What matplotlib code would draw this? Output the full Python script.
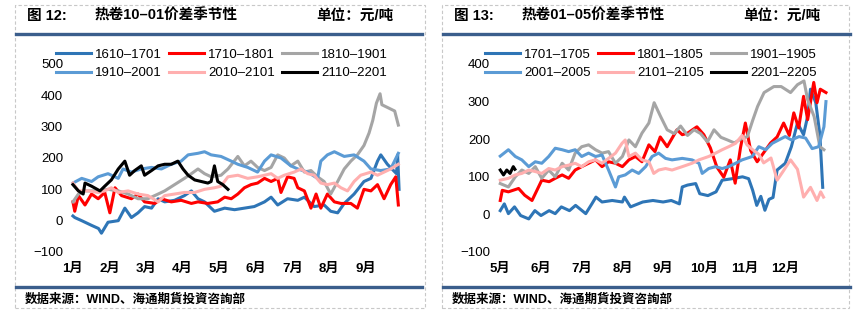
import matplotlib
matplotlib.use("Agg")
import matplotlib.pyplot as plt
from matplotlib.lines import Line2D
from matplotlib.patches import Rectangle

plt.rcParams['font.family'] = ['Liberation Sans', 'Noto Sans CJK SC']
plt.rcParams['axes.unicode_minus'] = True

# ---- left chart: 10-01 spread, x = months since 1 Jan ----
left_ticks = ['1月', '2月', '3月', '4月', '5月', '6月', '7月', '8月', '9月']
left_labels = ['1610–1701', '1710–1801', '1810–1901', '1910–2001', '2010–2101', '2110–2201']

s1610 = [(0.0, 15), (0.05, 10), (0.24, 0), (0.51, -15), (0.7, -25), (0.78, -40), (0.96, -5),
         (1.24, 0), (1.42, 40), (1.6, 10), (1.78, 25), (1.96, 45), (2.15, 40), (2.33, 70),
         (2.51, 60), (2.78, 65), (3.05, 80), (3.24, 95), (3.42, 70), (3.6, 60), (3.87, 30),
         (4.15, 40), (4.42, 35), (4.69, 40), (4.96, 45), (5.24, 60), (5.42, 75), (5.6, 50),
         (5.87, 70), (6.15, 65), (6.33, 75), (6.6, 45), (6.87, 50), (7.05, 30), (7.24, 25),
         (7.42, 55), (7.69, 85), (7.96, 125), (8.15, 135), (8.33, 190), (8.42, 210),
         (8.6, 180), (8.85, 150), (8.88, 210), (8.92, 100)]
s1710 = [(0.0, 60), (0.05, 30), (0.15, 80), (0.33, 50), (0.51, 85), (0.69, 70), (0.87, 90),
         (1.01, 25), (1.15, 105), (1.33, 80), (1.6, 70), (1.78, 85), (1.96, 60), (2.24, 55),
         (2.42, 70), (2.69, 60), (2.96, 65), (3.24, 55), (3.42, 60), (3.69, 55), (3.96, 60),
         (4.15, 75), (4.33, 70), (4.51, 85), (4.69, 105), (4.87, 115), (5.05, 120),
         (5.24, 135), (5.42, 125), (5.6, 135), (5.69, 90), (5.87, 140), (6.05, 135),
         (6.15, 105), (6.33, 95), (6.51, 40), (6.65, 85), (6.78, 40), (6.96, 85), (7.15, 60),
         (7.33, 55), (7.6, 55), (7.78, 40), (7.96, 100), (8.15, 95), (8.33, 115), (8.51, 70),
         (8.69, 115), (8.83, 140), (8.9, 50)]
s1810 = [(0.0, 60), (0.15, 85), (0.33, 95), (0.69, 95), (0.96, 100), (1.24, 95), (1.51, 85),
         (1.78, 70), (2.05, 70), (2.33, 85), (2.51, 95), (2.78, 115), (3.05, 135), (3.24, 150),
         (3.42, 165), (3.6, 150), (3.78, 140), (4.05, 145), (4.24, 165), (4.51, 205),
         (4.69, 175), (4.87, 190), (5.05, 170), (5.24, 160), (5.42, 170), (5.6, 210),
         (5.78, 200), (5.96, 175), (6.15, 190), (6.33, 155), (6.51, 160), (6.69, 140),
         (6.87, 125), (7.05, 85), (7.24, 125), (7.42, 165), (7.6, 190), (7.78, 210),
         (7.96, 240), (8.1, 280), (8.2, 320), (8.3, 375), (8.4, 405), (8.45, 370), (8.8, 350),
         (8.9, 305)]
s1910 = [(0.0, 120), (0.24, 135), (0.51, 125), (0.69, 140), (0.96, 150), (1.24, 135),
         (1.37, 165), (1.6, 155), (1.87, 165), (2.15, 170), (2.42, 165), (2.69, 180),
         (2.96, 190), (3.15, 210), (3.42, 215), (3.6, 220), (3.78, 210), (4.05, 205),
         (4.33, 190), (4.51, 180), (4.78, 170), (5.05, 155), (5.24, 190), (5.42, 210),
         (5.69, 200), (5.96, 175), (6.15, 165), (6.42, 155), (6.69, 135), (6.78, 190),
         (6.96, 210), (7.15, 220), (7.42, 205), (7.69, 210), (7.96, 190), (8.15, 165),
         (8.42, 160), (8.69, 165), (8.9, 215)]
s2010 = [(0.0, 120), (0.15, 95), (0.42, 95), (0.69, 90), (0.87, 95), (1.05, 105), (1.24, 90),
         (1.51, 95), (1.78, 85), (2.05, 80), (2.33, 60), (2.51, 80), (2.78, 85), (3.05, 90),
         (3.33, 90), (3.6, 100), (3.87, 105), (4.05, 110), (4.24, 140), (4.51, 145),
         (4.78, 135), (5.05, 140), (5.24, 145), (5.42, 150), (5.6, 135), (5.78, 145),
         (6.05, 155), (6.24, 165), (6.42, 150), (6.6, 145), (6.78, 120), (6.96, 115),
         (7.15, 120), (7.33, 105), (7.51, 95), (7.69, 125), (7.87, 145), (8.15, 155),
         (8.33, 145), (8.51, 155), (8.69, 165), (8.9, 180)]
s2110 = [(0.0, 115), (0.15, 95), (0.28, 85), (0.33, 120), (0.51, 110), (0.74, 95), (0.87, 110),
         (1.05, 130), (1.24, 165), (1.42, 190), (1.55, 145), (1.69, 160), (1.87, 175),
         (1.96, 145), (2.15, 160), (2.33, 175), (2.51, 180), (2.69, 180), (2.87, 190),
         (3.01, 165), (3.15, 145), (3.33, 130), (3.51, 125), (3.69, 120), (3.78, 125),
         (3.87, 175), (3.96, 125), (4.1, 115), (4.24, 100)]

# ---- right chart: 01-05 spread, x = months since 1 May ----
right_ticks = ['5月', '6月', '7月', '8月', '9月', '10月', '11月', '12月']
right_labels = ['1701–1705', '1801–1805', '1901–1905', '2001–2005', '2101–2105', '2201–2205']

s1701 = [(0.0, 10), (0.1, 28), (0.2, 2), (0.35, 20), (0.5, -3), (0.7, -12), (0.85, 10),
         (1.0, -3), (1.2, 10), (1.35, 2), (1.5, 20), (1.7, 10), (1.85, 24), (2.1, 2),
         (2.25, 28), (2.35, 46), (2.5, 33), (2.75, 37), (3.0, 33), (3.05, 46), (3.2, 20),
         (3.5, 33), (3.75, 37), (4.0, 33), (4.2, 37), (4.4, 28), (4.47, 73), (4.6, 78),
         (4.8, 82), (4.9, 55), (5.1, 50), (5.3, 60), (5.45, 91), (5.7, 95), (5.95, 100),
         (6.1, 95), (6.2, 64), (6.3, 24), (6.4, 48), (6.5, 11), (6.6, 40), (6.7, 45),
         (6.8, 118), (7.0, 136), (7.15, 180), (7.3, 243), (7.45, 212), (7.55, 261),
         (7.62, 333), (7.75, 297), (7.85, 212), (7.92, 72)]
s1801 = [(0.0, 37), (0.05, 64), (0.2, 60), (0.45, 69), (0.6, 51), (0.78, 37), (0.94, 73),
         (1.02, 91), (1.2, 87), (1.35, 96), (1.52, 105), (1.68, 96), (1.84, 118), (2.0, 127),
         (2.17, 136), (2.34, 145), (2.5, 127), (2.66, 140), (2.83, 136), (3.0, 127),
         (3.16, 145), (3.32, 154), (3.48, 140), (3.65, 185), (3.8, 167), (3.93, 206),
         (4.1, 180), (4.34, 225), (4.47, 212), (4.6, 216), (4.83, 233), (5.0, 212),
         (5.16, 177), (5.32, 126), (5.49, 99), (5.65, 145), (5.77, 83), (5.9, 177),
         (6.02, 243), (6.15, 170), (6.31, 140), (6.47, 164), (6.64, 190), (6.8, 206),
         (6.96, 243), (7.1, 210), (7.21, 270), (7.33, 230), (7.45, 314), (7.55, 252),
         (7.7, 351), (7.78, 297), (7.86, 333), (8.0, 324)]
s1901 = [(0.0, 82), (0.2, 73), (0.37, 100), (0.53, 118), (0.7, 109), (0.86, 127), (1.02, 96),
         (1.19, 118), (1.35, 100), (1.52, 136), (1.68, 118), (1.84, 163), (2.0, 180),
         (2.17, 185), (2.34, 172), (2.5, 163), (2.66, 167), (2.83, 136), (3.0, 154),
         (3.16, 198), (3.32, 180), (3.48, 216), (3.65, 243), (3.78, 297), (3.94, 260),
         (4.1, 225), (4.27, 215), (4.43, 235), (4.6, 210), (4.76, 225), (4.92, 215),
         (5.09, 193), (5.25, 225), (5.42, 205), (5.58, 198), (5.75, 190), (5.9, 200),
         (6.07, 207), (6.2, 250), (6.32, 287), (6.48, 324), (6.72, 340), (6.9, 340),
         (7.13, 324), (7.3, 345), (7.46, 355), (7.55, 305), (7.71, 260), (7.85, 180),
         (7.95, 172)]
s2001 = [(0.0, 155), (0.2, 172), (0.37, 154), (0.53, 145), (0.7, 127), (0.86, 140),
         (1.02, 136), (1.19, 154), (1.35, 176), (1.52, 172), (1.68, 167), (1.84, 172),
         (2.0, 154), (2.17, 163), (2.34, 154), (2.5, 158), (2.66, 118), (2.83, 73),
         (2.91, 100), (3.07, 105), (3.24, 118), (3.4, 109), (3.57, 127), (3.73, 154),
         (3.89, 163), (4.06, 149), (4.22, 145), (4.47, 149), (4.71, 145), (4.88, 136),
         (4.96, 109), (5.12, 122), (5.29, 127), (5.45, 122), (5.61, 127), (5.78, 136),
         (5.94, 145), (6.19, 154), (6.35, 180), (6.52, 172), (6.68, 189), (6.84, 198),
         (7.0, 207), (7.15, 198), (7.34, 207), (7.5, 203), (7.66, 175), (7.82, 180),
         (7.95, 233), (8.0, 300)]
s2101 = [(0.0, 91), (0.2, 96), (0.37, 105), (0.53, 109), (0.7, 118), (0.86, 114), (1.02, 109),
         (1.19, 122), (1.35, 118), (1.52, 127), (1.68, 131), (1.84, 136), (2.0, 127),
         (2.17, 140), (2.34, 145), (2.5, 136), (2.66, 149), (2.83, 163), (2.99, 189),
         (3.07, 198), (3.16, 154), (3.32, 163), (3.48, 145), (3.65, 140), (3.77, 109),
         (3.89, 118), (4.06, 122), (4.22, 118), (4.47, 127), (4.71, 136), (4.88, 145),
         (5.12, 154), (5.29, 163), (5.45, 172), (5.61, 180), (5.78, 189), (5.94, 210),
         (6.06, 185), (6.2, 172), (6.35, 160), (6.47, 137), (6.65, 150), (6.8, 91),
         (6.95, 115), (7.13, 145), (7.3, 120), (7.45, 46), (7.62, 72), (7.78, 37),
         (7.87, 60), (7.94, 46)]
s2201 = [(0.0, 118), (0.08, 105), (0.16, 118), (0.24, 109), (0.32, 127), (0.36, 120)]

colors = ['#2E75B6', '#FF0000', '#A5A5A5', '#5B9BD5', '#FFAFAF', '#000000']
blue_bar = '#3B5E8C'

W, H = 854, 324
fig = plt.figure(figsize=(W / 100, H / 100), dpi=100)


def fx(x):
    return x / W


def fy(y):
    return 1 - y / H


def panel(x0, x1, rule_end, title_no, title, series, labels, ticks, ylim, xmax,
          ax_left, ax_width, legend_cx):
    # dashed frame of the panel
    fig.add_artist(Rectangle((fx(x0), fy(308)), fx(x1) - fx(x0), fy(5) - fy(308),
                             transform=fig.transFigure, fill=False, ec='#C8C8C8',
                             ls=(0, (3, 2)), lw=0.8))
    # heading
    fig.text(fx(x0 + 12), fy(16), title_no, fontsize=10.5, fontweight='bold', va='center')
    fig.text(fx(x0 + 80), fy(16), title, fontsize=10.5, fontweight='bold', va='center')
    fig.text(fx(x0 + 301), fy(16), '单位：元/吨', fontsize=10.5, fontweight='bold', va='center')
    fig.add_artist(Line2D([fx(x0 + 1), fx(rule_end)], [fy(34), fy(34)],
                          transform=fig.transFigure, color=blue_bar, lw=2.4))
    fig.add_artist(Line2D([fx(x0 + 1), fx(rule_end)], [fy(287), fy(287)],
                          transform=fig.transFigure, color=blue_bar, lw=2.4))
    fig.text(fx(x0 + 10), fy(300), '数据来源：WIND、海通期貨投資咨詢部', fontsize=9,
             fontweight='bold', va='center')

    ax = fig.add_axes([fx(ax_left), fy(252), ax_width / W, (252 - 64) / H])
    handles = []
    for s, lab, c in zip(series, labels, colors):
        xs = [p[0] for p in s]
        ys = [p[1] for p in s]
        h, = ax.plot(xs, ys, color=c, lw=2.2, label=lab, solid_joinstyle='round')
        handles.append(h)
    ax.set_xlim(-0.08, xmax)
    ax.set_ylim(*ylim)
    ax.set_yticks(range(ylim[0], ylim[1] + 1, 100))
    ax.set_xticks(range(len(ticks)))
    ax.set_xticklabels(ticks, fontweight='bold')
    ax.tick_params(axis='y', length=0, pad=5, labelsize=9.5)
    ax.tick_params(axis='x', length=0, pad=8, labelsize=9.5)
    for sp in ax.spines.values():
        sp.set_visible(False)
    order = [0, 3, 1, 4, 2, 5]
    fig.legend([handles[i] for i in order], [labels[i] for i in order], ncol=3,
               loc='center', bbox_to_anchor=(fx(legend_cx), fy(64)), frameon=False,
               fontsize=9.5, handlelength=2.65, handletextpad=0.3, columnspacing=0.55,
               labelspacing=0.45, borderpad=0)
    return ax


panel(15, 425, 422, '图 12:', '热卷10–01价差季节性', [s1610, s1710, s1810, s1910, s2010, s2110],
      left_labels, left_ticks, (-100, 500), 9.0, 70, 332, 222)
panel(442, 849, 850, '图 13:', '热卷01–05价差季节性', [s1701, s1801, s1901, s2001, s2101, s2201],
      right_labels, right_ticks, (-100, 400), 8.05, 497, 331, 651)

fig.savefig('out.png', dpi=100)
